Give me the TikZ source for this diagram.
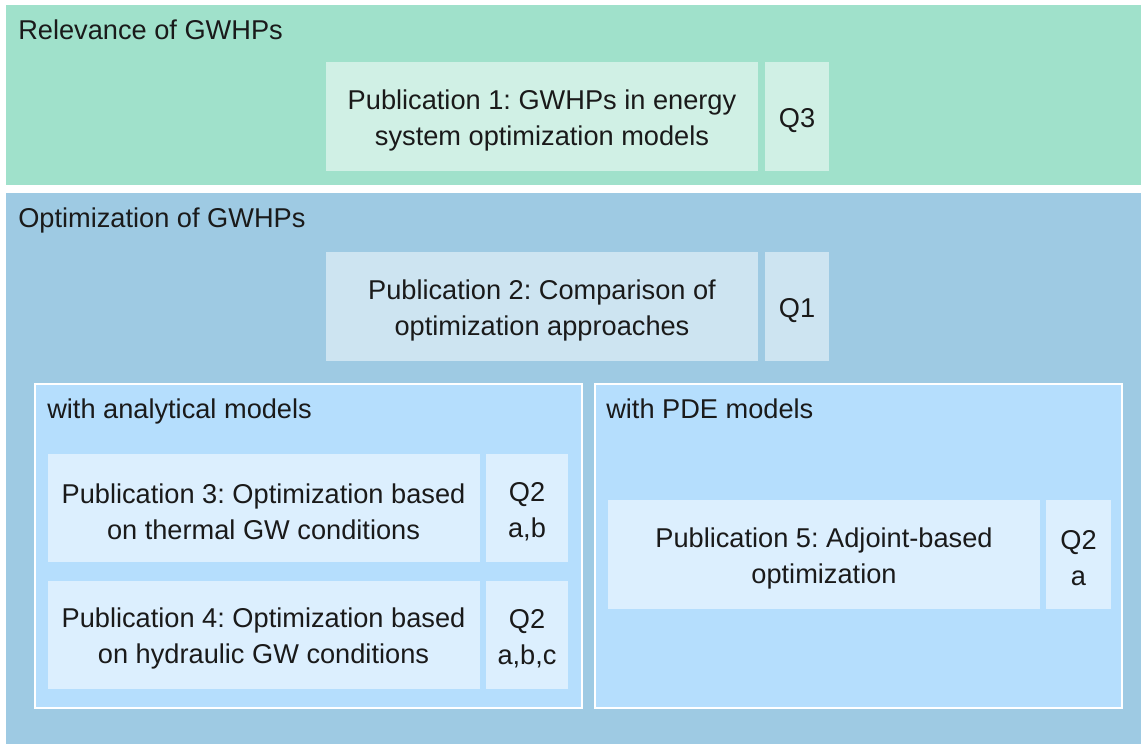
\documentclass[tikz,border=0pt]{standalone}
\usepackage{fontspec}
\setmainfont{Liberation Sans}
\usetikzlibrary{fit}
\definecolor{relpanel}{HTML}{A0E1CB}
\definecolor{relbox}{HTML}{D0F0E5}
\definecolor{optpanel}{HTML}{9ECAE3}
\definecolor{optbox}{HTML}{CDE4F1}
\definecolor{subpanel}{HTML}{B5DEFD}
\definecolor{subbox}{HTML}{DCEFFE}
\definecolor{ink}{HTML}{1A1A1A}
\frenchspacing
\begin{document}
\begin{tikzpicture}[x=0.75pt,y=-0.75pt,
  every node/.style={text=ink,font=\fontsize{20.4pt}{27pt}\selectfont},
  panel/.style={inner sep=0pt,outer sep=0pt,draw=none},
  subpanel/.style={inner sep=0pt,outer sep=0pt,fill=subpanel,draw=white,line width=1.2pt},
  pubbox/.style={inner sep=0pt,outer sep=0pt,minimum height=81.5pt},
  wide/.style={pubbox,minimum width=324pt},
  narrow/.style={pubbox,minimum width=#1},
  boxtext/.style={inner sep=0pt,align=center,yshift=-2.8pt},
  heading/.style={anchor=base west,inner sep=0pt}]
\useasboundingbox (0,0) rectangle (1143,746);
\fill[white] (0,0) rectangle (1143,746);

% Relevance panel
\node[panel,fill=relpanel,fit={(6,5)(1141,185)}] (rel) {};
\node[heading] (relhead) at (18,39) {Relevance of GWHPs};
\node[wide,fill=relbox] (pub1) at (542,116.5) {};
\node[boxtext] (pub1t) at (pub1.center) {Publication 1: GWHPs in energy\\system optimization models};
\node[narrow=48pt,fill=relbox] (q3) at (797,116.5) {};
\node[boxtext] (q3t) at (q3.center) {Q3};

% Optimization panel
\node[panel,fill=optpanel,fit={(6,193)(1141,744)}] (opt) {};
\node[heading] (opthead) at (18,227) {Optimization of GWHPs};
\node[wide,fill=optbox] (pub2) at (542,306.5) {};
\node[boxtext] (pub2t) at (pub2.center) {Publication 2: Comparison of\\optimization approaches};
\node[narrow=48pt,fill=optbox] (q1) at (797,306.5) {};
\node[boxtext] (q1t) at (q1.center) {Q1};

% Analytical models
\node[subpanel,fit={(35,384)(582,708)}] (ana) {};
\node[heading] (anahead) at (47,418) {with analytical models};
\node[wide,fill=subbox] (pub3) at (263.5,508) {};
\node[boxtext] (pub3t) at (pub3.center) {Publication 3: Optimization based\\on thermal GW conditions};
\node[narrow=61.5pt,fill=subbox] (q2ab) at (527,508) {};
\node[boxtext] (q2abt) at (q2ab.center) {Q2\\a,b};
\node[wide,fill=subbox] (pub4) at (263.5,635) {};
\node[boxtext] (pub4t) at (pub4.center) {Publication 4: Optimization based\\on hydraulic GW conditions};
\node[narrow=61.5pt,fill=subbox] (q2abc) at (527,635) {};
\node[boxtext] (q2abct) at (q2abc.center) {Q2\\a,b,c};

% PDE models
\node[subpanel,fit={(595,384)(1122,708)}] (pde) {};
\node[heading] (pdehead) at (606,418) {with PDE models};
\node[wide,fill=subbox] (pub5) at (824,554.5) {};
\node[boxtext] (pub5t) at (pub5.center) {Publication 5: Adjoint-based\\optimization};
\node[narrow=48.75pt,fill=subbox] (q2a) at (1078.5,554.5) {};
\node[boxtext] (q2at) at (q2a.center) {Q2\\a};
\end{tikzpicture}
\end{document}
